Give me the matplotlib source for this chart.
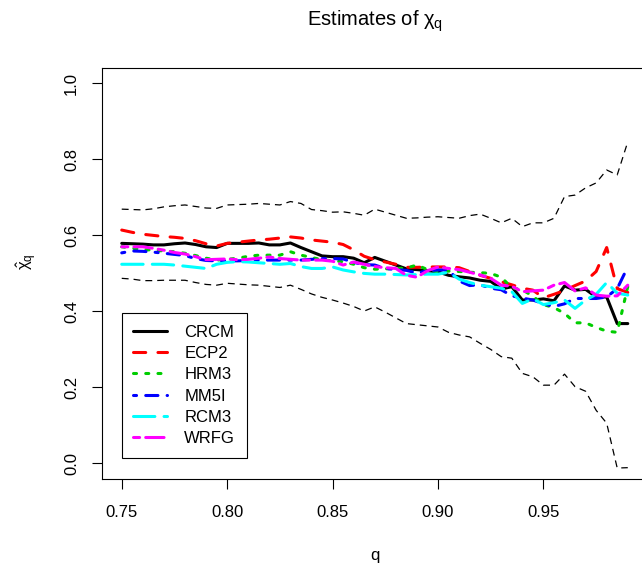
import numpy as np
import matplotlib
matplotlib.use("Agg")
import matplotlib.pyplot as plt

plt.rcParams['font.family'] = ['Liberation Sans', 'DejaVu Sans']
plt.rcParams['mathtext.fontset'] = 'custom'
plt.rcParams['mathtext.rm'] = 'Liberation Sans'
plt.rcParams['mathtext.it'] = 'Liberation Sans'
plt.rcParams['mathtext.bf'] = 'Liberation Sans:bold'

# quantile levels 0.75 .. 0.99 step 0.005
q = np.round(np.arange(0.75, 0.9901, 0.005), 3)

upper = [0.669, 0.668, 0.667, 0.670, 0.675, 0.678, 0.680, 0.676, 0.672, 0.671,
         0.680, 0.681, 0.682, 0.684, 0.682, 0.680, 0.689, 0.684, 0.668, 0.665,
         0.661, 0.662, 0.658, 0.653, 0.669, 0.661, 0.653, 0.645, 0.646, 0.648,
         0.649, 0.647, 0.645, 0.652, 0.656, 0.645, 0.633, 0.645, 0.623, 0.633,
         0.633, 0.645, 0.702, 0.706, 0.725, 0.738, 0.772, 0.759, 0.846]
lower = [0.487, 0.485, 0.481, 0.481, 0.482, 0.482, 0.482, 0.476, 0.471, 0.469,
         0.474, 0.472, 0.470, 0.469, 0.466, 0.463, 0.469, 0.458, 0.446, 0.437,
         0.430, 0.422, 0.413, 0.401, 0.412, 0.398, 0.383, 0.368, 0.365, 0.362,
         0.359, 0.345, 0.338, 0.333, 0.316, 0.300, 0.281, 0.277, 0.237, 0.228,
         0.206, 0.206, 0.235, 0.202, 0.190, 0.140, 0.106, -0.012, -0.011]

crcm = [0.579, 0.578, 0.577, 0.575, 0.575, 0.578, 0.580, 0.576, 0.570, 0.568,
        0.579, 0.579, 0.579, 0.580, 0.575, 0.575, 0.580, 0.568, 0.557, 0.546,
        0.544, 0.544, 0.540, 0.528, 0.542, 0.532, 0.522, 0.512, 0.510, 0.507,
        0.504, 0.495, 0.491, 0.488, 0.482, 0.479, 0.459, 0.465, 0.430, 0.430,
        0.433, 0.428, 0.467, 0.456, 0.458, 0.438, 0.438, 0.368, 0.368]
ecp2 = [0.614, 0.608, 0.603, 0.600, 0.597, 0.595, 0.592, 0.586, 0.578, 0.572,
        0.579, 0.582, 0.585, 0.588, 0.590, 0.593, 0.596, 0.593, 0.588, 0.585,
        0.582, 0.576, 0.562, 0.545, 0.536, 0.530, 0.524, 0.516, 0.516, 0.517,
        0.517, 0.517, 0.515, 0.505, 0.495, 0.487, 0.478, 0.470, 0.461, 0.456,
        0.436, 0.445, 0.455, 0.468, 0.480, 0.505, 0.568, 0.460, 0.450]
hrm3 = [0.570, 0.566, 0.563, 0.561, 0.559, 0.557, 0.553, 0.547, 0.540, 0.535,
        0.537, 0.540, 0.545, 0.548, 0.548, 0.548, 0.557, 0.548, 0.542, 0.536,
        0.533, 0.531, 0.524, 0.515, 0.511, 0.512, 0.513, 0.514, 0.522, 0.510,
        0.504, 0.506, 0.505, 0.503, 0.502, 0.500, 0.490, 0.462, 0.457, 0.440,
        0.418, 0.410, 0.395, 0.370, 0.370, 0.358, 0.348, 0.345, 0.465]
mm5i = [0.554, 0.559, 0.558, 0.556, 0.553, 0.550, 0.547, 0.539, 0.534, 0.533,
        0.533, 0.533, 0.534, 0.535, 0.535, 0.535, 0.535, 0.535, 0.537, 0.539,
        0.539, 0.538, 0.529, 0.523, 0.522, 0.513, 0.510, 0.508, 0.501, 0.507,
        0.509, 0.509, 0.480, 0.468, 0.470, 0.461, 0.457, 0.441, 0.435, 0.430,
        0.420, 0.413, 0.420, 0.434, 0.434, 0.434, 0.438, 0.460, 0.517]
rcm3 = [0.524, 0.524, 0.524, 0.524, 0.524, 0.522, 0.519, 0.516, 0.513, 0.524,
        0.529, 0.531, 0.530, 0.528, 0.526, 0.524, 0.526, 0.518, 0.513, 0.513,
        0.517, 0.509, 0.504, 0.500, 0.498, 0.498, 0.497, 0.496, 0.497, 0.498,
        0.498, 0.503, 0.485, 0.476, 0.469, 0.465, 0.461, 0.452, 0.421, 0.433,
        0.418, 0.423, 0.430, 0.408, 0.430, 0.445, 0.476, 0.448, 0.443]
wrfg = [0.570, 0.570, 0.570, 0.566, 0.561, 0.555, 0.551, 0.544, 0.536, 0.537,
        0.538, 0.536, 0.537, 0.540, 0.543, 0.539, 0.537, 0.535, 0.535, 0.535,
        0.532, 0.522, 0.530, 0.524, 0.518, 0.515, 0.513, 0.495, 0.490, 0.507,
        0.517, 0.513, 0.510, 0.503, 0.496, 0.487, 0.469, 0.466, 0.452, 0.454,
        0.456, 0.469, 0.476, 0.454, 0.462, 0.443, 0.440, 0.441, 0.469]

names = ['CRCM', 'ECP2', 'HRM3', 'MM5I', 'RCM3', 'WRFG']
series = [crcm, ecp2, hrm3, mm5i, rcm3, wrfg]
colors = ['black', '#FF0000', '#00CD00', '#0000FF', '#00FFFF', '#FF00FF']
styles = ['-', (0, (4, 4)), (0, (1, 3)), (0, (1, 3, 4, 3)), (0, (7, 3)), (0, (2, 2, 6, 2))]

xticks = [0.75, 0.80, 0.85, 0.90, 0.95]
yticks = [0.0, 0.2, 0.4, 0.6, 0.8, 1.0]

W, H = 642, 571
fig = plt.figure(figsize=(W / 100, H / 100), dpi=100)
# plot region runs past the right edge, as in the reference (cropped)
ax = fig.add_axes([101.5 / W, 1 - 478.5 / H, (648 - 101.5) / W, (478.5 - 68.3) / H])
ax.set_xlim(0.7404, 0.9996)
ax.set_ylim(-0.0395, 1.0395)

ax.plot(q, upper, color='black', lw=0.9, ls=(0, (5.5, 4)))
ax.plot(q, lower, color='black', lw=0.9, ls=(0, (5.5, 4)))

for name, vals, col, ls in zip(names, series, colors, styles):
    ax.plot(q, vals, color=col, lw=2.2, ls=ls, label=name,
            dash_capstyle='round', solid_capstyle='round',
            solid_joinstyle='round', dash_joinstyle='round')

for s in ax.spines.values():
    s.set_linewidth(0.8)

ax.set_xticks(xticks)
ax.set_xticklabels(['%.2f' % t for t in xticks])
ax.set_yticks(yticks)
ax.set_yticklabels(['%.1f' % t for t in yticks], rotation=90, va='center')
ax.tick_params(axis='both', length=7.2, width=0.8, labelsize=12)
ax.tick_params(axis='x', pad=12)
ax.tick_params(axis='y', pad=9)

leg = ax.legend(loc='upper left', bbox_to_anchor=(0.75, 0.396),
                bbox_transform=ax.transData, fontsize=12, fancybox=False,
                edgecolor='black', framealpha=1, borderaxespad=0,
                handlelength=2.0, handletextpad=1.05, borderpad=0.7,
                labelspacing=0.38)
leg.get_frame().set_linewidth(0.8)

fig.text(374.5 / W, 1 - 26 / H, r'Estimates of $\chi_q$', ha='center',
         va='baseline', fontsize=14.5)
fig.text(374.5 / W, 1 - 560 / H, 'q', ha='center', va='baseline', fontsize=12)
fig.text(27 / W, 1 - 262 / H, r'$\hat{\chi}_q$', ha='center', va='center',
         rotation=90, fontsize=12)

fig.savefig('out.png', dpi=100)
